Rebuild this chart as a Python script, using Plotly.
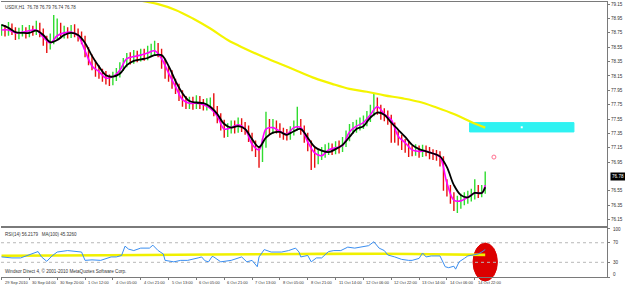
import plotly.graph_objects as go

# ---------------- data ----------------
title_text = "USDX,H1  76.78 76.79 76.74 76.78"
rsi_title = "RSI(14) 56.2179   MA(100) 45.3260"
credit = "Windsor Direct 4, \u00a9 2001-2010 MetaQuotes Software Corp."
last_price = 76.78
first_open = 78.78

bar_idx = list(range(0, 280, 2))
closes = [78.80, 78.76, 78.82, 78.78, 78.72, 78.76, 78.78, 78.74, 78.79, 78.77,
          78.83, 78.76, 78.64, 78.58, 78.66, 78.72, 78.78, 78.74, 78.77, 78.74,
          78.78, 78.75, 78.70, 78.66, 78.48, 78.38, 78.30, 78.22, 78.18, 78.15,
          78.10, 78.08, 78.14, 78.19, 78.28, 78.33, 78.40, 78.38, 78.44, 78.41,
          78.46, 78.43, 78.48, 78.50, 78.53, 78.48, 78.32, 78.22, 78.16, 78.05,
          77.98, 77.88, 77.80, 77.76, 77.78, 77.75, 77.80, 77.76, 77.74, 77.76,
          77.78, 77.66, 77.56, 77.48, 77.36, 77.42, 77.45, 77.42, 77.49, 77.44,
          77.40, 77.30, 77.18, 77.10, 77.05, 77.20, 77.45, 77.40, 77.46, 77.42,
          77.36, 77.33, 77.32, 77.38, 77.45, 77.48, 77.40, 77.30, 77.18, 77.08,
          77.00, 77.05, 77.08, 77.12, 77.14, 77.12, 77.17, 77.14, 77.22, 77.30,
          77.40, 77.42, 77.46, 77.48, 77.52, 77.58, 77.66, 77.74, 77.68, 77.62,
          77.60, 77.56, 77.44, 77.30, 77.26, 77.20, 77.16, 77.10, 77.10, 77.12,
          77.08, 77.12, 77.10, 77.06, 77.05, 77.04, 76.96, 76.62, 76.55, 76.45,
          76.35, 76.40, 76.42, 76.44, 76.47, 76.50, 76.55, 76.52, 76.56, 76.78]
highs = [78.87, 78.86, 78.90, 78.88, 78.83, 78.82, 78.86, 78.83, 78.86, 78.85,
         78.92, 78.89, 78.81, 78.71, 78.74, 79.00, 78.95, 78.89, 78.85, 78.83,
         78.86, 78.87, 78.81, 78.77, 78.71, 78.55, 78.45, 78.37, 78.30, 78.25,
         78.22, 78.17, 78.21, 78.26, 78.34, 78.40, 78.47, 78.48, 78.51, 78.50,
         78.53, 78.53, 78.57, 78.60, 78.64, 78.61, 78.53, 78.39, 78.29, 78.23,
         78.11, 78.04, 77.95, 77.87, 77.86, 77.86, 77.88, 77.87, 77.83, 77.84,
         77.85, 77.91, 77.73, 77.63, 77.54, 77.49, 77.53, 77.53, 77.57, 77.56,
         77.51, 77.46, 77.36, 77.25, 77.17, 77.28, 77.65, 77.55, 77.55, 77.53,
         77.49, 77.43, 77.41, 77.45, 77.53, 77.72, 77.55, 77.46, 77.36, 77.25,
         77.15, 77.13, 77.16, 77.20, 77.22, 77.21, 77.24, 77.25, 77.30, 77.39,
         77.48, 77.51, 77.54, 77.57, 77.60, 77.66, 77.75, 77.91, 77.85, 77.75,
         77.70, 77.67, 77.61, 77.50, 77.38, 77.33, 77.27, 77.23, 77.18, 77.20,
         77.18, 77.19, 77.18, 77.16, 77.13, 77.12, 77.10, 77.03, 76.71, 76.63,
         76.53, 76.48, 76.51, 76.53, 76.55, 76.58, 76.71, 76.63, 76.63, 76.82]
lows = [78.71, 78.70, 78.71, 78.72, 78.65, 78.66, 78.70, 78.67, 78.69, 78.71,
        78.72, 78.69, 78.57, 78.47, 78.52, 78.59, 78.65, 78.67, 78.67, 78.67,
        78.68, 78.69, 78.63, 78.59, 78.41, 78.30, 78.23, 78.14, 78.11, 78.07,
        78.03, 78.01, 78.02, 78.08, 78.13, 78.22, 78.27, 78.31, 78.32, 78.34,
        78.35, 78.36, 78.37, 78.42, 78.43, 78.41, 78.25, 78.11, 78.07, 77.97,
        77.90, 77.80, 77.72, 77.69, 77.69, 77.68, 77.69, 77.69, 77.67, 77.67,
        77.69, 77.59, 77.49, 77.39, 77.29, 77.30, 77.35, 77.35, 77.36, 77.37,
        77.33, 77.23, 77.10, 77.02, 76.87, 76.95, 77.15, 77.33, 77.34, 77.35,
        77.29, 77.26, 77.25, 77.26, 77.32, 77.39, 77.33, 77.22, 77.10, 76.84,
        76.87, 76.92, 76.98, 77.01, 77.05, 77.05, 77.06, 77.07, 77.09, 77.16,
        77.24, 77.34, 77.36, 77.39, 77.41, 77.45, 77.51, 77.59, 77.61, 77.54,
        77.52, 77.47, 77.22, 77.22, 77.18, 77.12, 77.08, 77.02, 77.03, 77.04,
        77.01, 77.02, 77.03, 76.99, 76.98, 76.97, 76.89, 76.55, 76.47, 76.37,
        76.27, 76.24, 76.30, 76.35, 76.37, 76.40, 76.43, 76.45, 76.46, 76.51]
opens = [first_open] + closes[:-1]

ma_idx = list(range(0, 277, 4)) + [278]
ma_fast = [78.79, 78.79, 78.75, 78.76, 78.78, 78.79, 78.69, 78.61, 78.71, 78.75,
           78.76, 78.71, 78.50, 78.29, 78.21, 78.12, 78.14, 78.23, 78.39, 78.42,
           78.44, 78.47, 78.50, 78.39, 78.19, 78.00, 77.82, 77.77, 77.77, 77.75,
           77.70, 77.59, 77.41, 77.43, 77.47, 77.41, 77.20, 77.12, 77.41, 77.43,
           77.38, 77.34, 77.43, 77.43, 77.23, 77.08, 77.04, 77.12, 77.15, 77.18,
           77.37, 77.45, 77.50, 77.61, 77.72, 77.62, 77.54, 77.31, 77.22, 77.12,
           77.10, 77.10, 77.07, 77.02, 76.66, 76.42, 76.41, 76.46, 76.52, 76.52,
           76.63]
ma_slow = [78.86, 78.82, 78.76, 78.75, 78.75, 78.78, 78.72, 78.62, 78.65, 78.72,
           78.75, 78.72, 78.61, 78.43, 78.28, 78.16, 78.14, 78.18, 78.30, 78.36,
           78.38, 78.40, 78.44, 78.44, 78.29, 78.08, 77.91, 77.80, 77.78, 77.77,
           77.72, 77.62, 77.48, 77.43, 77.45, 77.41, 77.27, 77.16, 77.29, 77.36,
           77.37, 77.33, 77.38, 77.41, 77.29, 77.16, 77.11, 77.09, 77.13, 77.19,
           77.30, 77.41, 77.45, 77.57, 77.64, 77.61, 77.50, 77.40, 77.30, 77.19,
           77.13, 77.10, 77.07, 77.03, 76.88, 76.63, 76.49, 76.46, 76.52, 76.52,
           76.60]

ma_long_idx = list(range(50, 271, 10)) + [278]
ma_long = [79.42, 79.35, 79.27, 79.20, 79.15, 79.07, 78.95, 78.81, 78.65, 78.53,
           78.42, 78.32, 78.22, 78.12, 78.04, 77.97, 77.93, 77.88, 77.84, 77.79,
           77.71, 77.62, 77.51, 77.43]

rsi_idx = [0, 6, 11, 14, 17, 21, 23, 26, 29, 32, 38, 46, 48, 52, 57, 63, 66, 69, 71, 73,
           76, 80, 85, 87, 90, 93, 94, 99, 103, 107, 113, 115, 117, 119, 121, 122, 126,
           132, 138, 141, 144, 147, 148, 151, 155, 161, 165, 169, 171, 172, 176, 178,
           181, 184, 188, 191, 195, 199, 203, 207, 211, 214, 217, 220, 222, 226, 230,
           234, 236, 240, 242, 244, 247, 252, 255, 257, 260, 261, 263, 266, 268, 271,
           274, 276, 278]
rsi = [41, 39, 39, 43, 47, 52, 41, 32, 43, 51, 54, 51, 34, 35, 34, 41, 41, 44, 63, 57,
       54, 59, 59, 65, 54, 47, 34, 31, 34, 34, 39, 41, 33, 31, 42, 41, 31,
       34, 41, 31, 34, 21, 41, 56, 51, 51, 54, 59, 51, 41, 44, 31,
       39, 39, 52, 54, 54, 61, 59, 61, 64, 72, 59, 54, 45, 41, 36,
       34, 34, 38, 49, 41, 43, 43, 21, 19, 22, 16, 31, 38, 43, 45,
       47, 51, 56]
rsi_ma_idx = [0, 60, 121, 172, 218, 247, 278]
rsi_ma = [43.5, 44.5, 46.0, 47.0, 47.5, 46.5, 45.3]

time_tick_idx = list(range(0, 273, 16))
time_labels = ["29 Sep 2010", "30 Sep 04:00", "30 Sep 20:00", "1 Oct 12:00",
               "4 Oct 05:00", "4 Oct 21:00", "5 Oct 13:00", "6 Oct 05:00",
               "6 Oct 21:00", "7 Oct 13:00", "8 Oct 05:00", "8 Oct 21:00",
               "11 Oct 14:00", "12 Oct 06:00", "12 Oct 22:00", "13 Oct 14:00",
               "14 Oct 06:00", "14 Oct 22:00"]

price_ticks = [76.15, 76.35, 76.55, 76.95, 77.15, 77.35, 77.55, 77.75,
               77.95, 78.15, 78.35, 78.55, 78.75, 78.95, 79.15]
rsi_levels = [70, 30]
rsi_labels = ["100", "70", "30", "0"]
rsi_label_vals = [97, 70, 30, 6]

box_idx = [269, 329]
box_price = [77.37, 77.50]
mark_idx = [283]
mark_price = [77.02]
ellipse_idx = [271, 285]

# ---------------- figure ----------------
FONT = "Liberation Sans"
TXT = "#333333"
fig = go.Figure()

fig.add_trace(go.Ohlc(
    x=bar_idx, open=opens, high=highs, low=lows, close=closes,
    increasing=dict(line=dict(color="#2fdc2f", width=1.4)),
    decreasing=dict(line=dict(color="#e81010", width=1.4)),
    tickwidth=0.2, xaxis="x", yaxis="y", showlegend=False, hoverinfo="skip"))

fig.add_trace(go.Scatter(x=ma_long_idx, y=ma_long, mode="lines",
                         line=dict(color="#f4f400", width=2.2, shape="spline"),
                         xaxis="x", yaxis="y", showlegend=False, hoverinfo="skip"))
fig.add_trace(go.Scatter(x=ma_idx, y=ma_fast, mode="lines",
                         line=dict(color="#ff00ff", width=1.6, shape="spline"),
                         xaxis="x", yaxis="y", showlegend=False, hoverinfo="skip"))
fig.add_trace(go.Scatter(x=ma_idx, y=ma_slow, mode="lines",
                         line=dict(color="#000000", width=1.8, shape="spline"),
                         xaxis="x", yaxis="y", showlegend=False, hoverinfo="skip"))
fig.add_trace(go.Scatter(x=mark_idx, y=mark_price, mode="markers",
                         marker=dict(symbol="circle-open", size=4, color="#ff6f8f",
                                     line=dict(width=1, color="#ff6f8f")),
                         xaxis="x", yaxis="y", showlegend=False, hoverinfo="skip"))
fig.add_trace(go.Scatter(x=[sum(box_idx) / 2], y=[sum(box_price) / 2], mode="markers",
                         marker=dict(symbol="square", size=2, color="#ffffff"),
                         xaxis="x", yaxis="y", showlegend=False, hoverinfo="skip"))

# RSI window
fig.add_trace(go.Scatter(x=rsi_ma_idx, y=rsi_ma, mode="lines",
                         line=dict(color="#f0f000", width=2.6, shape="spline"),
                         xaxis="x2", yaxis="y2", showlegend=False, hoverinfo="skip"))
fig.add_trace(go.Scatter(x=rsi_idx, y=rsi, mode="lines",
                         line=dict(color="#3a8ef0", width=1),
                         xaxis="x2", yaxis="y2", showlegend=False, hoverinfo="skip"))

shapes = [
    dict(type="rect", xref="x", yref="y", x0=box_idx[0], x1=box_idx[1],
         y0=box_price[0], y1=box_price[1], fillcolor="#2ff2f2",
         line=dict(color="#2ff2f2", width=1), layer="below"),
    dict(type="circle", xref="x2", yref="paper", x0=ellipse_idx[0], x1=ellipse_idx[1],
         y0=-0.0145, y1=0.1236, fillcolor="#dc0000",
         line=dict(color="#dc0000", width=1), layer="below"),
]
for lv in rsi_levels:
    shapes.append(dict(type="line", xref="paper", yref="y2", x0=0, x1=1, y0=lv, y1=lv,
                       line=dict(color="#b8b8b8", width=1, dash="dot"), layer="below"))
fig.update_layout(shapes=shapes)

ann = [
    dict(text=title_text, xref="paper", yref="paper", x=0.004, y=0.996,
         xanchor="left", yanchor="top", showarrow=False,
         font=dict(size=4.5, color=TXT, family=FONT)),
    dict(text=rsi_title, xref="paper", yref="paper", x=0.004, y=0.172,
         xanchor="left", yanchor="top", showarrow=False,
         font=dict(size=4.5, color=TXT, family=FONT)),
    dict(text=credit, xref="paper", yref="paper", x=0.004, y=0.004,
         xanchor="left", yanchor="bottom", showarrow=False,
         font=dict(size=4.6, color=TXT, family=FONT)),
    dict(text="%.2f" % last_price, xref="paper", yref="y", x=1, y=last_price,
         xanchor="left", yanchor="middle", xshift=3, yshift=-2, showarrow=False,
         bgcolor="#000000", borderpad=1,
         font=dict(size=4.6, color="#ffffff", family=FONT)),
]
for t, lab in zip(time_tick_idx, time_labels):
    ann.append(dict(text=lab, xref="x2", yref="paper", x=t, y=-0.004,
                    xanchor="left", yanchor="top", xshift=1, showarrow=False,
                    font=dict(size=4.0, color=TXT, family=FONT)))
for lab, v in zip(rsi_labels, rsi_label_vals):
    ann.append(dict(text=lab, xref="paper", yref="y2", x=1, y=v,
                    xanchor="left", yanchor="middle", xshift=4, showarrow=False,
                    font=dict(size=4.6, color=TXT, family=FONT)))
fig.update_layout(annotations=ann)

axis_line = "#7a7a7a"
fig.update_layout(
    width=625, height=285,
    margin=dict(l=1, r=18, t=2, b=8),
    paper_bgcolor="#ffffff", plot_bgcolor="#ffffff",
    xaxis=dict(domain=[0, 1], anchor="y", range=[-0.3, 348], showgrid=False,
               zeroline=False, showticklabels=False, showline=True, mirror=True,
               linecolor=axis_line, linewidth=1, rangeslider=dict(visible=False)),
    yaxis=dict(domain=[0.1855, 1], anchor="x", range=[76.06, 79.18], side="right",
               tickvals=price_ticks, ticktext=["%.2f" % v for v in price_ticks],
               ticks="outside", ticklen=2, tickcolor=axis_line,
               tickfont=dict(size=4.6, color=TXT, family=FONT),
               showgrid=False, zeroline=False, showline=True, linecolor=axis_line),
    xaxis2=dict(domain=[0, 1], anchor="y2", matches="x", showgrid=False,
                zeroline=False, showticklabels=False, showline=True, mirror=True,
                linecolor=axis_line, linewidth=1, tickvals=time_tick_idx,
                ticks="outside", ticklen=2, tickcolor=axis_line),
    yaxis2=dict(domain=[0, 0.178], anchor="x2", range=[0, 100], side="right",
                tickvals=[0, 30, 70, 100], showticklabels=False, ticks="outside",
                ticklen=2, tickcolor=axis_line, showgrid=False, zeroline=False,
                showline=True, linecolor=axis_line),
)

fig.write_html("out.html")
